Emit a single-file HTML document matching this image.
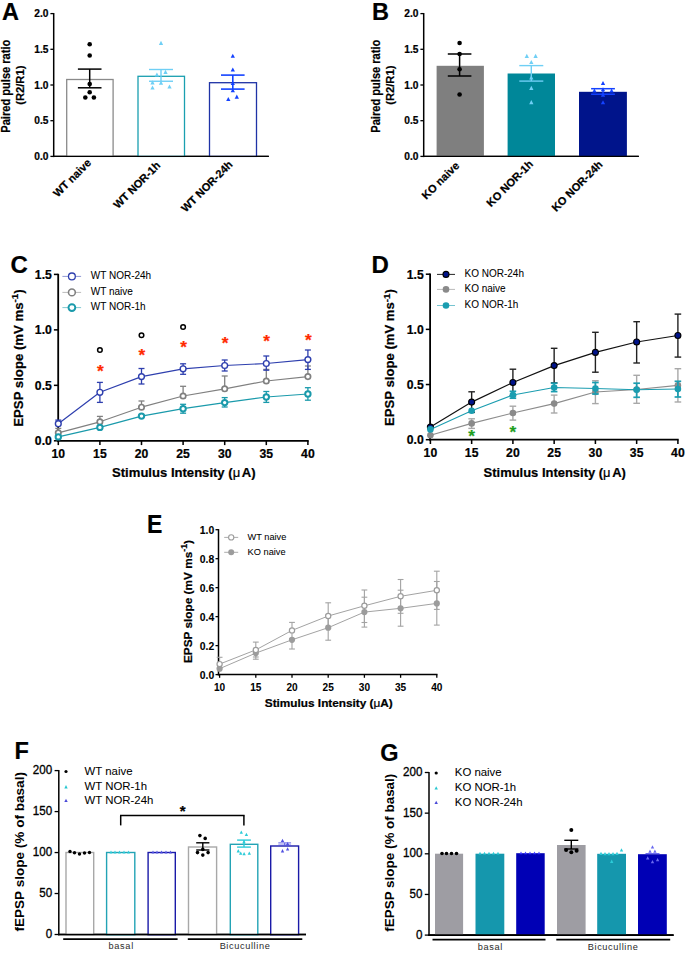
<!DOCTYPE html>
<html><head><meta charset="utf-8"><style>
html,body{margin:0;padding:0;background:#fff;}
svg{display:block;}
text{font-family:"Liberation Sans", sans-serif;stroke:currentColor;stroke-width:0.22px;}
text[font-weight="normal"]{stroke-width:0.05px;}
</style></head><body>
<svg width="685" height="964" viewBox="0 0 685 964">
<rect width="685" height="964" fill="#fff"/>
<text x="2.00" y="20.20" font-size="23.5" font-weight="bold" text-anchor="start" fill="#000" color="#000">A</text>
<line x1="53.70" y1="157.10" x2="53.70" y2="13.00" stroke="#000" stroke-width="1.5" stroke-linecap="butt"/>
<line x1="50.40" y1="156.40" x2="53.70" y2="156.40" stroke="#000" stroke-width="1.3" stroke-linecap="butt"/>
<text x="48.50" y="159.90" font-size="10.2" font-weight="bold" text-anchor="end" fill="#000" color="#000">0.0</text>
<line x1="50.40" y1="120.70" x2="53.70" y2="120.70" stroke="#000" stroke-width="1.3" stroke-linecap="butt"/>
<text x="48.50" y="124.20" font-size="10.2" font-weight="bold" text-anchor="end" fill="#000" color="#000">0.5</text>
<line x1="50.40" y1="85.00" x2="53.70" y2="85.00" stroke="#000" stroke-width="1.3" stroke-linecap="butt"/>
<text x="48.50" y="88.50" font-size="10.2" font-weight="bold" text-anchor="end" fill="#000" color="#000">1.0</text>
<line x1="50.40" y1="49.30" x2="53.70" y2="49.30" stroke="#000" stroke-width="1.3" stroke-linecap="butt"/>
<text x="48.50" y="52.80" font-size="10.2" font-weight="bold" text-anchor="end" fill="#000" color="#000">1.5</text>
<line x1="50.40" y1="13.60" x2="53.70" y2="13.60" stroke="#000" stroke-width="1.3" stroke-linecap="butt"/>
<text x="48.50" y="17.10" font-size="10.2" font-weight="bold" text-anchor="end" fill="#000" color="#000">2.0</text>
<line x1="53.10" y1="156.40" x2="268.80" y2="156.40" stroke="#000" stroke-width="1.4" stroke-linecap="butt"/>
<text x="0.00" y="0.00" font-size="12.0" font-weight="bold" text-anchor="middle" fill="#000" color="#000" textLength="93.00" lengthAdjust="spacingAndGlyphs" transform="translate(10.10,86.20) rotate(-90)">Paired pulse ratio</text>
<text x="0.00" y="0.00" font-size="11.8" font-weight="bold" text-anchor="middle" fill="#000" color="#000" textLength="39.20" lengthAdjust="spacingAndGlyphs" transform="translate(24.30,85.20) rotate(-90)">(R2/R1)</text>
<rect x="66.70" y="79.50" width="46.40" height="76.90" fill="#fff" stroke="#8a8a8a" stroke-width="1.3"/>
<rect x="138.00" y="76.30" width="46.50" height="80.10" fill="#fff" stroke="#1a9fb0" stroke-width="1.3"/>
<rect x="209.50" y="82.70" width="47.00" height="73.70" fill="#fff" stroke="#1f33a6" stroke-width="1.3"/>
<line x1="53.10" y1="156.40" x2="268.80" y2="156.40" stroke="#000" stroke-width="1.4" stroke-linecap="butt"/>
<line x1="89.70" y1="69.10" x2="89.70" y2="87.80" stroke="#000" stroke-width="1.5" stroke-linecap="butt"/>
<line x1="77.90" y1="69.10" x2="101.50" y2="69.10" stroke="#000" stroke-width="1.5" stroke-linecap="butt"/>
<line x1="77.90" y1="87.80" x2="101.50" y2="87.80" stroke="#000" stroke-width="1.5" stroke-linecap="butt"/>
<circle cx="89.70" cy="44.30" r="2.30" fill="#000" stroke="none" stroke-width="1.0"/>
<circle cx="89.70" cy="55.50" r="2.30" fill="#000" stroke="none" stroke-width="1.0"/>
<circle cx="89.70" cy="84.00" r="2.30" fill="#000" stroke="none" stroke-width="1.0"/>
<circle cx="89.70" cy="92.30" r="2.30" fill="#000" stroke="none" stroke-width="1.0"/>
<circle cx="85.30" cy="97.50" r="2.30" fill="#000" stroke="none" stroke-width="1.0"/>
<circle cx="93.90" cy="97.50" r="2.30" fill="#000" stroke="none" stroke-width="1.0"/>
<line x1="161.00" y1="69.50" x2="161.00" y2="81.25" stroke="#6fcff5" stroke-width="1.4" stroke-linecap="butt"/>
<line x1="149.00" y1="69.50" x2="173.00" y2="69.50" stroke="#6fcff5" stroke-width="1.4" stroke-linecap="butt"/>
<line x1="149.00" y1="81.25" x2="173.00" y2="81.25" stroke="#6fcff5" stroke-width="1.4" stroke-linecap="butt"/>
<polygon points="161.00,40.78 163.13,44.92 158.87,44.92" fill="#6fcff5"/>
<polygon points="156.90,72.48 159.03,76.62 154.77,76.62" fill="#6fcff5"/>
<polygon points="165.50,69.78 167.63,73.92 163.37,73.92" fill="#6fcff5"/>
<polygon points="152.50,80.28 154.63,84.42 150.37,84.42" fill="#6fcff5"/>
<polygon points="161.00,80.68 163.13,84.82 158.87,84.82" fill="#6fcff5"/>
<polygon points="152.50,85.48 154.63,89.62 150.37,89.62" fill="#6fcff5"/>
<polygon points="169.50,84.48 171.63,88.62 167.37,88.62" fill="#6fcff5"/>
<line x1="232.80" y1="75.10" x2="232.80" y2="89.10" stroke="#1442ff" stroke-width="1.6" stroke-linecap="butt"/>
<line x1="221.00" y1="75.10" x2="244.60" y2="75.10" stroke="#1442ff" stroke-width="1.6" stroke-linecap="butt"/>
<line x1="221.00" y1="89.10" x2="244.60" y2="89.10" stroke="#1442ff" stroke-width="1.6" stroke-linecap="butt"/>
<polygon points="232.80,53.68 234.93,57.82 230.67,57.82" fill="#1442ff"/>
<polygon points="232.80,67.48 234.93,71.62 230.67,71.62" fill="#1442ff"/>
<polygon points="232.80,80.98 234.93,85.12 230.67,85.12" fill="#1442ff"/>
<polygon points="232.80,88.18 234.93,92.32 230.67,92.32" fill="#1442ff"/>
<polygon points="228.30,96.98 230.43,101.12 226.17,101.12" fill="#1442ff"/>
<polygon points="236.80,94.58 238.93,98.72 234.67,98.72" fill="#1442ff"/>
<text x="0.00" y="0.00" font-size="11.0" font-weight="bold" text-anchor="end" fill="#000" color="#000" transform="translate(91.90,163.50) rotate(-45)">WT naive</text>
<text x="0.00" y="0.00" font-size="11.0" font-weight="bold" text-anchor="end" fill="#000" color="#000" transform="translate(161.10,166.10) rotate(-45)">WT NOR-1h</text>
<text x="0.00" y="0.00" font-size="11.0" font-weight="bold" text-anchor="end" fill="#000" color="#000" transform="translate(233.30,165.20) rotate(-45)">WT NOR-24h</text>
<text x="372.00" y="20.20" font-size="23.5" font-weight="bold" text-anchor="start" fill="#000" color="#000">B</text>
<line x1="423.70" y1="157.10" x2="423.70" y2="13.00" stroke="#000" stroke-width="1.5" stroke-linecap="butt"/>
<line x1="420.40" y1="156.40" x2="423.70" y2="156.40" stroke="#000" stroke-width="1.3" stroke-linecap="butt"/>
<text x="418.50" y="159.90" font-size="10.2" font-weight="bold" text-anchor="end" fill="#000" color="#000">0.0</text>
<line x1="420.40" y1="120.70" x2="423.70" y2="120.70" stroke="#000" stroke-width="1.3" stroke-linecap="butt"/>
<text x="418.50" y="124.20" font-size="10.2" font-weight="bold" text-anchor="end" fill="#000" color="#000">0.5</text>
<line x1="420.40" y1="85.00" x2="423.70" y2="85.00" stroke="#000" stroke-width="1.3" stroke-linecap="butt"/>
<text x="418.50" y="88.50" font-size="10.2" font-weight="bold" text-anchor="end" fill="#000" color="#000">1.0</text>
<line x1="420.40" y1="49.30" x2="423.70" y2="49.30" stroke="#000" stroke-width="1.3" stroke-linecap="butt"/>
<text x="418.50" y="52.80" font-size="10.2" font-weight="bold" text-anchor="end" fill="#000" color="#000">1.5</text>
<line x1="420.40" y1="13.60" x2="423.70" y2="13.60" stroke="#000" stroke-width="1.3" stroke-linecap="butt"/>
<text x="418.50" y="17.10" font-size="10.2" font-weight="bold" text-anchor="end" fill="#000" color="#000">2.0</text>
<line x1="423.10" y1="156.40" x2="638.80" y2="156.40" stroke="#000" stroke-width="1.4" stroke-linecap="butt"/>
<text x="0.00" y="0.00" font-size="12.0" font-weight="bold" text-anchor="middle" fill="#000" color="#000" textLength="93.00" lengthAdjust="spacingAndGlyphs" transform="translate(380.10,86.20) rotate(-90)">Paired pulse ratio</text>
<text x="0.00" y="0.00" font-size="11.8" font-weight="bold" text-anchor="middle" fill="#000" color="#000" textLength="39.20" lengthAdjust="spacingAndGlyphs" transform="translate(394.30,85.20) rotate(-90)">(R2/R1)</text>
<rect x="436.60" y="65.80" width="47.30" height="90.60" fill="#7f7f7f" stroke="none" stroke-width="1.3"/>
<rect x="507.60" y="73.50" width="47.40" height="82.90" fill="#008799" stroke="none" stroke-width="1.3"/>
<rect x="579.00" y="91.80" width="47.90" height="64.60" fill="#00148b" stroke="none" stroke-width="1.3"/>
<line x1="423.10" y1="156.40" x2="638.80" y2="156.40" stroke="#000" stroke-width="1.4" stroke-linecap="butt"/>
<line x1="459.60" y1="54.00" x2="459.60" y2="76.00" stroke="#000" stroke-width="1.5" stroke-linecap="butt"/>
<line x1="447.80" y1="54.00" x2="471.40" y2="54.00" stroke="#000" stroke-width="1.5" stroke-linecap="butt"/>
<line x1="447.80" y1="76.00" x2="471.40" y2="76.00" stroke="#000" stroke-width="1.5" stroke-linecap="butt"/>
<circle cx="459.60" cy="43.00" r="2.30" fill="#000" stroke="none" stroke-width="1.0"/>
<circle cx="459.60" cy="54.00" r="2.30" fill="#000" stroke="none" stroke-width="1.0"/>
<circle cx="459.60" cy="69.20" r="2.30" fill="#000" stroke="none" stroke-width="1.0"/>
<circle cx="459.60" cy="94.50" r="2.30" fill="#000" stroke="none" stroke-width="1.0"/>
<line x1="531.30" y1="65.60" x2="531.30" y2="81.10" stroke="#6fcff5" stroke-width="1.4" stroke-linecap="butt"/>
<line x1="519.30" y1="65.60" x2="543.30" y2="65.60" stroke="#6fcff5" stroke-width="1.4" stroke-linecap="butt"/>
<line x1="519.30" y1="81.10" x2="543.30" y2="81.10" stroke="#6fcff5" stroke-width="1.4" stroke-linecap="butt"/>
<polygon points="526.80,53.78 528.93,57.92 524.67,57.92" fill="#6fcff5"/>
<polygon points="535.60,53.78 537.73,57.92 533.47,57.92" fill="#6fcff5"/>
<polygon points="531.30,59.88 533.43,64.02 529.17,64.02" fill="#6fcff5"/>
<polygon points="531.30,75.38 533.43,79.52 529.17,79.52" fill="#6fcff5"/>
<polygon points="531.30,85.78 533.43,89.92 529.17,89.92" fill="#6fcff5"/>
<polygon points="531.30,100.08 533.43,104.22 529.17,104.22" fill="#6fcff5"/>
<line x1="603.00" y1="88.70" x2="603.00" y2="94.20" stroke="#1442ff" stroke-width="1.5" stroke-linecap="butt"/>
<line x1="591.10" y1="88.70" x2="614.90" y2="88.70" stroke="#1442ff" stroke-width="1.5" stroke-linecap="butt"/>
<line x1="591.10" y1="94.20" x2="614.90" y2="94.20" stroke="#1442ff" stroke-width="1.5" stroke-linecap="butt"/>
<polygon points="603.00,80.88 605.13,85.02 600.87,85.02" fill="#1442ff"/>
<polygon points="603.00,87.18 605.13,91.32 600.87,91.32" fill="#1442ff"/>
<polygon points="594.40,88.48 596.53,92.62 592.27,92.62" fill="#1442ff"/>
<polygon points="611.60,88.48 613.73,92.62 609.47,92.62" fill="#1442ff"/>
<polygon points="603.00,92.58 605.13,96.72 600.87,96.72" fill="#1442ff"/>
<polygon points="603.00,100.18 605.13,104.32 600.87,104.32" fill="#1442ff"/>
<text x="0.00" y="0.00" font-size="11.0" font-weight="bold" text-anchor="end" fill="#000" color="#000" transform="translate(460.00,166.40) rotate(-45)">KO naive</text>
<text x="0.00" y="0.00" font-size="11.0" font-weight="bold" text-anchor="end" fill="#000" color="#000" transform="translate(533.80,164.80) rotate(-45)">KO NOR-1h</text>
<text x="0.00" y="0.00" font-size="11.0" font-weight="bold" text-anchor="end" fill="#000" color="#000" transform="translate(603.30,165.20) rotate(-45)">KO NOR-24h</text>
<text x="10.60" y="273.20" font-size="24.0" font-weight="bold" text-anchor="start" fill="#000" color="#000">C</text>
<line x1="58.20" y1="273.80" x2="58.20" y2="441.60" stroke="#000" stroke-width="1.8" stroke-linecap="butt"/>
<line x1="53.90" y1="440.80" x2="58.20" y2="440.80" stroke="#000" stroke-width="1.53" stroke-linecap="butt"/>
<text x="0.00" y="0.00" font-size="12.2" font-weight="bold" text-anchor="end" fill="#000" color="#000" transform="translate(51.80,445.10) scale(1,1.08)">0.0</text>
<line x1="53.90" y1="385.34" x2="58.20" y2="385.34" stroke="#000" stroke-width="1.53" stroke-linecap="butt"/>
<text x="0.00" y="0.00" font-size="12.2" font-weight="bold" text-anchor="end" fill="#000" color="#000" transform="translate(51.80,389.64) scale(1,1.08)">0.5</text>
<line x1="53.90" y1="329.87" x2="58.20" y2="329.87" stroke="#000" stroke-width="1.53" stroke-linecap="butt"/>
<text x="0.00" y="0.00" font-size="12.2" font-weight="bold" text-anchor="end" fill="#000" color="#000" transform="translate(51.80,334.17) scale(1,1.08)">1.0</text>
<line x1="53.90" y1="274.40" x2="58.20" y2="274.40" stroke="#000" stroke-width="1.53" stroke-linecap="butt"/>
<text x="0.00" y="0.00" font-size="12.2" font-weight="bold" text-anchor="end" fill="#000" color="#000" transform="translate(51.80,278.70) scale(1,1.08)">1.5</text>
<line x1="57.40" y1="440.80" x2="308.70" y2="440.80" stroke="#000" stroke-width="1.8" stroke-linecap="butt"/>
<line x1="58.30" y1="440.80" x2="58.30" y2="445.10" stroke="#000" stroke-width="1.53" stroke-linecap="butt"/>
<text x="0.00" y="0.00" font-size="12.2" font-weight="bold" text-anchor="middle" fill="#000" color="#000" transform="translate(58.30,457.80) scale(1,1.08)">10</text>
<line x1="99.90" y1="440.80" x2="99.90" y2="445.10" stroke="#000" stroke-width="1.53" stroke-linecap="butt"/>
<text x="0.00" y="0.00" font-size="12.2" font-weight="bold" text-anchor="middle" fill="#000" color="#000" transform="translate(99.90,457.80) scale(1,1.08)">15</text>
<line x1="141.50" y1="440.80" x2="141.50" y2="445.10" stroke="#000" stroke-width="1.53" stroke-linecap="butt"/>
<text x="0.00" y="0.00" font-size="12.2" font-weight="bold" text-anchor="middle" fill="#000" color="#000" transform="translate(141.50,457.80) scale(1,1.08)">20</text>
<line x1="183.10" y1="440.80" x2="183.10" y2="445.10" stroke="#000" stroke-width="1.53" stroke-linecap="butt"/>
<text x="0.00" y="0.00" font-size="12.2" font-weight="bold" text-anchor="middle" fill="#000" color="#000" transform="translate(183.10,457.80) scale(1,1.08)">25</text>
<line x1="224.70" y1="440.80" x2="224.70" y2="445.10" stroke="#000" stroke-width="1.53" stroke-linecap="butt"/>
<text x="0.00" y="0.00" font-size="12.2" font-weight="bold" text-anchor="middle" fill="#000" color="#000" transform="translate(224.70,457.80) scale(1,1.08)">30</text>
<line x1="266.30" y1="440.80" x2="266.30" y2="445.10" stroke="#000" stroke-width="1.53" stroke-linecap="butt"/>
<text x="0.00" y="0.00" font-size="12.2" font-weight="bold" text-anchor="middle" fill="#000" color="#000" transform="translate(266.30,457.80) scale(1,1.08)">35</text>
<line x1="307.90" y1="440.80" x2="307.90" y2="445.10" stroke="#000" stroke-width="1.53" stroke-linecap="butt"/>
<text x="0.00" y="0.00" font-size="12.2" font-weight="bold" text-anchor="middle" fill="#000" color="#000" transform="translate(307.90,457.80) scale(1,1.08)">40</text>
<text transform="translate(23.00,358.00) rotate(-90)" x="0" y="0" font-size="13.0" font-weight="bold" text-anchor="middle" textLength="137.50" lengthAdjust="spacingAndGlyphs">EPSP slope (mV ms<tspan font-size="9.75" dy="-4.68">-1</tspan><tspan dy="4.68">)</tspan></text>
<text x="183.80" y="477.30" font-size="13.3" font-weight="bold" text-anchor="middle" textLength="143.50" lengthAdjust="spacingAndGlyphs">Stimulus Intensity (<tspan font-weight="normal">μ</tspan><tspan dx="1.6">A)</tspan></text>
<polyline points="58.30,432.80 99.90,421.80 141.50,407.20 183.10,396.00 224.70,388.80 266.30,381.00 307.90,376.60" fill="none" stroke="#808080" stroke-width="1.2" stroke-linejoin="round"/>
<line x1="58.30" y1="428.40" x2="58.30" y2="432.80" stroke="#808080" stroke-width="1.3" stroke-linecap="butt"/>
<line x1="55.30" y1="428.40" x2="61.30" y2="428.40" stroke="#808080" stroke-width="1.3" stroke-linecap="butt"/>
<line x1="99.90" y1="416.40" x2="99.90" y2="421.80" stroke="#808080" stroke-width="1.3" stroke-linecap="butt"/>
<line x1="96.90" y1="416.40" x2="102.90" y2="416.40" stroke="#808080" stroke-width="1.3" stroke-linecap="butt"/>
<line x1="141.50" y1="401.00" x2="141.50" y2="407.20" stroke="#808080" stroke-width="1.3" stroke-linecap="butt"/>
<line x1="138.50" y1="401.00" x2="144.50" y2="401.00" stroke="#808080" stroke-width="1.3" stroke-linecap="butt"/>
<line x1="183.10" y1="386.30" x2="183.10" y2="396.00" stroke="#808080" stroke-width="1.3" stroke-linecap="butt"/>
<line x1="180.10" y1="386.30" x2="186.10" y2="386.30" stroke="#808080" stroke-width="1.3" stroke-linecap="butt"/>
<line x1="224.70" y1="376.00" x2="224.70" y2="388.80" stroke="#808080" stroke-width="1.3" stroke-linecap="butt"/>
<line x1="221.70" y1="376.00" x2="227.70" y2="376.00" stroke="#808080" stroke-width="1.3" stroke-linecap="butt"/>
<line x1="266.30" y1="369.40" x2="266.30" y2="381.00" stroke="#808080" stroke-width="1.3" stroke-linecap="butt"/>
<line x1="263.30" y1="369.40" x2="269.30" y2="369.40" stroke="#808080" stroke-width="1.3" stroke-linecap="butt"/>
<line x1="307.90" y1="366.00" x2="307.90" y2="376.60" stroke="#808080" stroke-width="1.3" stroke-linecap="butt"/>
<line x1="304.90" y1="366.00" x2="310.90" y2="366.00" stroke="#808080" stroke-width="1.3" stroke-linecap="butt"/>
<circle cx="58.30" cy="432.80" r="2.70" fill="#fff" stroke="#808080" stroke-width="1.7"/>
<circle cx="99.90" cy="421.80" r="2.70" fill="#fff" stroke="#808080" stroke-width="1.7"/>
<circle cx="141.50" cy="407.20" r="2.70" fill="#fff" stroke="#808080" stroke-width="1.7"/>
<circle cx="183.10" cy="396.00" r="2.70" fill="#fff" stroke="#808080" stroke-width="1.7"/>
<circle cx="224.70" cy="388.80" r="2.70" fill="#fff" stroke="#808080" stroke-width="1.7"/>
<circle cx="266.30" cy="381.00" r="2.70" fill="#fff" stroke="#808080" stroke-width="1.7"/>
<circle cx="307.90" cy="376.60" r="2.70" fill="#fff" stroke="#808080" stroke-width="1.7"/>
<polyline points="58.30,436.90 99.90,427.40 141.50,416.10 183.10,408.70 224.70,402.60 266.30,397.00 307.90,394.00" fill="none" stroke="#1a9aab" stroke-width="1.2" stroke-linejoin="round"/>
<line x1="183.10" y1="404.30" x2="183.10" y2="408.70" stroke="#1a9aab" stroke-width="1.3" stroke-linecap="butt"/>
<line x1="180.10" y1="404.30" x2="186.10" y2="404.30" stroke="#1a9aab" stroke-width="1.3" stroke-linecap="butt"/>
<line x1="183.10" y1="408.70" x2="183.10" y2="413.20" stroke="#1a9aab" stroke-width="1.3" stroke-linecap="butt"/>
<line x1="180.10" y1="413.20" x2="186.10" y2="413.20" stroke="#1a9aab" stroke-width="1.3" stroke-linecap="butt"/>
<line x1="224.70" y1="397.60" x2="224.70" y2="402.60" stroke="#1a9aab" stroke-width="1.3" stroke-linecap="butt"/>
<line x1="221.70" y1="397.60" x2="227.70" y2="397.60" stroke="#1a9aab" stroke-width="1.3" stroke-linecap="butt"/>
<line x1="224.70" y1="402.60" x2="224.70" y2="407.00" stroke="#1a9aab" stroke-width="1.3" stroke-linecap="butt"/>
<line x1="221.70" y1="407.00" x2="227.70" y2="407.00" stroke="#1a9aab" stroke-width="1.3" stroke-linecap="butt"/>
<line x1="266.30" y1="391.50" x2="266.30" y2="397.00" stroke="#1a9aab" stroke-width="1.3" stroke-linecap="butt"/>
<line x1="263.30" y1="391.50" x2="269.30" y2="391.50" stroke="#1a9aab" stroke-width="1.3" stroke-linecap="butt"/>
<line x1="266.30" y1="397.00" x2="266.30" y2="402.40" stroke="#1a9aab" stroke-width="1.3" stroke-linecap="butt"/>
<line x1="263.30" y1="402.40" x2="269.30" y2="402.40" stroke="#1a9aab" stroke-width="1.3" stroke-linecap="butt"/>
<line x1="307.90" y1="387.70" x2="307.90" y2="394.00" stroke="#1a9aab" stroke-width="1.3" stroke-linecap="butt"/>
<line x1="304.90" y1="387.70" x2="310.90" y2="387.70" stroke="#1a9aab" stroke-width="1.3" stroke-linecap="butt"/>
<line x1="307.90" y1="394.00" x2="307.90" y2="400.20" stroke="#1a9aab" stroke-width="1.3" stroke-linecap="butt"/>
<line x1="304.90" y1="400.20" x2="310.90" y2="400.20" stroke="#1a9aab" stroke-width="1.3" stroke-linecap="butt"/>
<circle cx="58.30" cy="436.90" r="2.70" fill="#fff" stroke="#1a9aab" stroke-width="2.0"/>
<circle cx="99.90" cy="427.40" r="2.70" fill="#fff" stroke="#1a9aab" stroke-width="2.0"/>
<circle cx="141.50" cy="416.10" r="2.70" fill="#fff" stroke="#1a9aab" stroke-width="2.0"/>
<circle cx="183.10" cy="408.70" r="2.70" fill="#fff" stroke="#1a9aab" stroke-width="2.0"/>
<circle cx="224.70" cy="402.60" r="2.70" fill="#fff" stroke="#1a9aab" stroke-width="2.0"/>
<circle cx="266.30" cy="397.00" r="2.70" fill="#fff" stroke="#1a9aab" stroke-width="2.0"/>
<circle cx="307.90" cy="394.00" r="2.70" fill="#fff" stroke="#1a9aab" stroke-width="2.0"/>
<polyline points="58.30,423.70 99.90,392.30 141.50,376.60 183.10,368.80 224.70,365.50 266.30,363.50 307.90,359.60" fill="none" stroke="#2e3fae" stroke-width="1.2" stroke-linejoin="round"/>
<line x1="58.30" y1="420.10" x2="58.30" y2="423.70" stroke="#2e3fae" stroke-width="1.3" stroke-linecap="butt"/>
<line x1="55.30" y1="420.10" x2="61.30" y2="420.10" stroke="#2e3fae" stroke-width="1.3" stroke-linecap="butt"/>
<line x1="99.90" y1="382.40" x2="99.90" y2="392.30" stroke="#2e3fae" stroke-width="1.3" stroke-linecap="butt"/>
<line x1="96.90" y1="382.40" x2="102.90" y2="382.40" stroke="#2e3fae" stroke-width="1.3" stroke-linecap="butt"/>
<line x1="99.90" y1="392.30" x2="99.90" y2="402.40" stroke="#2e3fae" stroke-width="1.3" stroke-linecap="butt"/>
<line x1="96.90" y1="402.40" x2="102.90" y2="402.40" stroke="#2e3fae" stroke-width="1.3" stroke-linecap="butt"/>
<line x1="141.50" y1="368.50" x2="141.50" y2="376.60" stroke="#2e3fae" stroke-width="1.3" stroke-linecap="butt"/>
<line x1="138.50" y1="368.50" x2="144.50" y2="368.50" stroke="#2e3fae" stroke-width="1.3" stroke-linecap="butt"/>
<line x1="141.50" y1="376.60" x2="141.50" y2="384.00" stroke="#2e3fae" stroke-width="1.3" stroke-linecap="butt"/>
<line x1="138.50" y1="384.00" x2="144.50" y2="384.00" stroke="#2e3fae" stroke-width="1.3" stroke-linecap="butt"/>
<line x1="183.10" y1="363.80" x2="183.10" y2="368.80" stroke="#2e3fae" stroke-width="1.3" stroke-linecap="butt"/>
<line x1="180.10" y1="363.80" x2="186.10" y2="363.80" stroke="#2e3fae" stroke-width="1.3" stroke-linecap="butt"/>
<line x1="183.10" y1="368.80" x2="183.10" y2="374.30" stroke="#2e3fae" stroke-width="1.3" stroke-linecap="butt"/>
<line x1="180.10" y1="374.30" x2="186.10" y2="374.30" stroke="#2e3fae" stroke-width="1.3" stroke-linecap="butt"/>
<line x1="224.70" y1="360.00" x2="224.70" y2="365.50" stroke="#2e3fae" stroke-width="1.3" stroke-linecap="butt"/>
<line x1="221.70" y1="360.00" x2="227.70" y2="360.00" stroke="#2e3fae" stroke-width="1.3" stroke-linecap="butt"/>
<line x1="224.70" y1="365.50" x2="224.70" y2="371.00" stroke="#2e3fae" stroke-width="1.3" stroke-linecap="butt"/>
<line x1="221.70" y1="371.00" x2="227.70" y2="371.00" stroke="#2e3fae" stroke-width="1.3" stroke-linecap="butt"/>
<line x1="266.30" y1="356.00" x2="266.30" y2="363.50" stroke="#2e3fae" stroke-width="1.3" stroke-linecap="butt"/>
<line x1="263.30" y1="356.00" x2="269.30" y2="356.00" stroke="#2e3fae" stroke-width="1.3" stroke-linecap="butt"/>
<line x1="266.30" y1="363.50" x2="266.30" y2="370.20" stroke="#2e3fae" stroke-width="1.3" stroke-linecap="butt"/>
<line x1="263.30" y1="370.20" x2="269.30" y2="370.20" stroke="#2e3fae" stroke-width="1.3" stroke-linecap="butt"/>
<line x1="307.90" y1="350.00" x2="307.90" y2="359.60" stroke="#2e3fae" stroke-width="1.3" stroke-linecap="butt"/>
<line x1="304.90" y1="350.00" x2="310.90" y2="350.00" stroke="#2e3fae" stroke-width="1.3" stroke-linecap="butt"/>
<line x1="307.90" y1="359.60" x2="307.90" y2="369.40" stroke="#2e3fae" stroke-width="1.3" stroke-linecap="butt"/>
<line x1="304.90" y1="369.40" x2="310.90" y2="369.40" stroke="#2e3fae" stroke-width="1.3" stroke-linecap="butt"/>
<circle cx="58.30" cy="423.70" r="2.90" fill="#fff" stroke="#2e3fae" stroke-width="1.4"/>
<circle cx="99.90" cy="392.30" r="2.90" fill="#fff" stroke="#2e3fae" stroke-width="1.4"/>
<circle cx="141.50" cy="376.60" r="2.90" fill="#fff" stroke="#2e3fae" stroke-width="1.4"/>
<circle cx="183.10" cy="368.80" r="2.90" fill="#fff" stroke="#2e3fae" stroke-width="1.4"/>
<circle cx="224.70" cy="365.50" r="2.90" fill="#fff" stroke="#2e3fae" stroke-width="1.4"/>
<circle cx="266.30" cy="363.50" r="2.90" fill="#fff" stroke="#2e3fae" stroke-width="1.4"/>
<circle cx="307.90" cy="359.60" r="2.90" fill="#fff" stroke="#2e3fae" stroke-width="1.4"/>
<line x1="62.4" y1="276.4" x2="81.1" y2="276.4" stroke="#2e3fae" stroke-width="0.9" stroke-opacity="0.6"/>
<circle cx="71.90" cy="276.40" r="3.40" fill="#fff" stroke="#2e3fae" stroke-width="1.3"/>
<text x="90.80" y="279.00" font-size="10.0" font-weight="normal" text-anchor="start" fill="#000" color="#000">WT NOR-24h</text>
<line x1="62.4" y1="292.4" x2="81.1" y2="292.4" stroke="#808080" stroke-width="0.9" stroke-opacity="0.6"/>
<circle cx="71.90" cy="292.40" r="3.40" fill="#fff" stroke="#808080" stroke-width="1.6"/>
<text x="90.80" y="295.00" font-size="10.0" font-weight="normal" text-anchor="start" fill="#000" color="#000">WT naive</text>
<line x1="62.4" y1="307.6" x2="81.1" y2="307.6" stroke="#1a9aab" stroke-width="0.9" stroke-opacity="0.6"/>
<circle cx="71.90" cy="307.60" r="3.40" fill="#fff" stroke="#1a9aab" stroke-width="1.9000000000000001"/>
<text x="90.80" y="310.20" font-size="10.0" font-weight="normal" text-anchor="start" fill="#000" color="#000">WT NOR-1h</text>
<circle cx="99.90" cy="350.00" r="2.30" fill="none" stroke="#000" stroke-width="1.5"/>
<text x="100.30" y="376.60" font-size="17.3" font-weight="bold" text-anchor="middle" fill="#ff2a00" color="#ff2a00">*</text>
<circle cx="141.50" cy="335.20" r="2.30" fill="none" stroke="#000" stroke-width="1.5"/>
<text x="141.90" y="361.30" font-size="17.3" font-weight="bold" text-anchor="middle" fill="#ff2a00" color="#ff2a00">*</text>
<circle cx="183.10" cy="327.00" r="2.30" fill="none" stroke="#000" stroke-width="1.5"/>
<text x="183.50" y="353.00" font-size="17.3" font-weight="bold" text-anchor="middle" fill="#ff2a00" color="#ff2a00">*</text>
<text x="225.10" y="349.10" font-size="17.3" font-weight="bold" text-anchor="middle" fill="#ff2a00" color="#ff2a00">*</text>
<text x="266.70" y="346.90" font-size="17.3" font-weight="bold" text-anchor="middle" fill="#ff2a00" color="#ff2a00">*</text>
<text x="308.30" y="345.60" font-size="17.3" font-weight="bold" text-anchor="middle" fill="#ff2a00" color="#ff2a00">*</text>
<text x="371.60" y="273.20" font-size="24.0" font-weight="bold" text-anchor="start" fill="#000" color="#000">D</text>
<line x1="430.10" y1="273.60" x2="430.10" y2="440.50" stroke="#000" stroke-width="1.8" stroke-linecap="butt"/>
<line x1="425.80" y1="439.70" x2="430.10" y2="439.70" stroke="#000" stroke-width="1.53" stroke-linecap="butt"/>
<text x="0.00" y="0.00" font-size="12.2" font-weight="bold" text-anchor="end" fill="#000" color="#000" transform="translate(423.70,444.00) scale(1,1.08)">0.0</text>
<line x1="425.80" y1="384.53" x2="430.10" y2="384.53" stroke="#000" stroke-width="1.53" stroke-linecap="butt"/>
<text x="0.00" y="0.00" font-size="12.2" font-weight="bold" text-anchor="end" fill="#000" color="#000" transform="translate(423.70,388.83) scale(1,1.08)">0.5</text>
<line x1="425.80" y1="329.37" x2="430.10" y2="329.37" stroke="#000" stroke-width="1.53" stroke-linecap="butt"/>
<text x="0.00" y="0.00" font-size="12.2" font-weight="bold" text-anchor="end" fill="#000" color="#000" transform="translate(423.70,333.67) scale(1,1.08)">1.0</text>
<line x1="425.80" y1="274.20" x2="430.10" y2="274.20" stroke="#000" stroke-width="1.53" stroke-linecap="butt"/>
<text x="0.00" y="0.00" font-size="12.2" font-weight="bold" text-anchor="end" fill="#000" color="#000" transform="translate(423.70,278.50) scale(1,1.08)">1.5</text>
<line x1="429.30" y1="439.70" x2="678.70" y2="439.70" stroke="#000" stroke-width="1.8" stroke-linecap="butt"/>
<line x1="430.40" y1="439.70" x2="430.40" y2="444.00" stroke="#000" stroke-width="1.53" stroke-linecap="butt"/>
<text x="0.00" y="0.00" font-size="12.2" font-weight="bold" text-anchor="middle" fill="#000" color="#000" transform="translate(430.40,456.70) scale(1,1.08)">10</text>
<line x1="471.65" y1="439.70" x2="471.65" y2="444.00" stroke="#000" stroke-width="1.53" stroke-linecap="butt"/>
<text x="0.00" y="0.00" font-size="12.2" font-weight="bold" text-anchor="middle" fill="#000" color="#000" transform="translate(471.65,456.70) scale(1,1.08)">15</text>
<line x1="512.90" y1="439.70" x2="512.90" y2="444.00" stroke="#000" stroke-width="1.53" stroke-linecap="butt"/>
<text x="0.00" y="0.00" font-size="12.2" font-weight="bold" text-anchor="middle" fill="#000" color="#000" transform="translate(512.90,456.70) scale(1,1.08)">20</text>
<line x1="554.15" y1="439.70" x2="554.15" y2="444.00" stroke="#000" stroke-width="1.53" stroke-linecap="butt"/>
<text x="0.00" y="0.00" font-size="12.2" font-weight="bold" text-anchor="middle" fill="#000" color="#000" transform="translate(554.15,456.70) scale(1,1.08)">25</text>
<line x1="595.40" y1="439.70" x2="595.40" y2="444.00" stroke="#000" stroke-width="1.53" stroke-linecap="butt"/>
<text x="0.00" y="0.00" font-size="12.2" font-weight="bold" text-anchor="middle" fill="#000" color="#000" transform="translate(595.40,456.70) scale(1,1.08)">30</text>
<line x1="636.65" y1="439.70" x2="636.65" y2="444.00" stroke="#000" stroke-width="1.53" stroke-linecap="butt"/>
<text x="0.00" y="0.00" font-size="12.2" font-weight="bold" text-anchor="middle" fill="#000" color="#000" transform="translate(636.65,456.70) scale(1,1.08)">35</text>
<line x1="677.90" y1="439.70" x2="677.90" y2="444.00" stroke="#000" stroke-width="1.53" stroke-linecap="butt"/>
<text x="0.00" y="0.00" font-size="12.2" font-weight="bold" text-anchor="middle" fill="#000" color="#000" transform="translate(677.90,456.70) scale(1,1.08)">40</text>
<text transform="translate(394.20,357.50) rotate(-90)" x="0" y="0" font-size="13.0" font-weight="bold" text-anchor="middle" textLength="137.00" lengthAdjust="spacingAndGlyphs">EPSP slope (mV ms<tspan font-size="9.75" dy="-4.68">-1</tspan><tspan dy="4.68">)</tspan></text>
<text x="554.70" y="477.30" font-size="13.3" font-weight="bold" text-anchor="middle" textLength="142.20" lengthAdjust="spacingAndGlyphs">Stimulus Intensity (<tspan font-weight="normal">μ</tspan><tspan dx="1.6">A)</tspan></text>
<polyline points="430.40,435.20 471.65,423.40 512.90,413.00 554.15,403.60 595.40,392.00 636.65,389.50 677.90,385.40" fill="none" stroke="#8c8c8c" stroke-width="1.1" stroke-linejoin="round"/>
<line x1="471.65" y1="418.80" x2="471.65" y2="423.40" stroke="#a8a8a8" stroke-width="1.4" stroke-linecap="butt"/>
<line x1="468.35" y1="418.80" x2="474.95" y2="418.80" stroke="#a8a8a8" stroke-width="1.4" stroke-linecap="butt"/>
<line x1="471.65" y1="423.40" x2="471.65" y2="428.40" stroke="#a8a8a8" stroke-width="1.4" stroke-linecap="butt"/>
<line x1="468.35" y1="428.40" x2="474.95" y2="428.40" stroke="#a8a8a8" stroke-width="1.4" stroke-linecap="butt"/>
<line x1="512.90" y1="406.20" x2="512.90" y2="413.00" stroke="#a8a8a8" stroke-width="1.4" stroke-linecap="butt"/>
<line x1="509.60" y1="406.20" x2="516.20" y2="406.20" stroke="#a8a8a8" stroke-width="1.4" stroke-linecap="butt"/>
<line x1="512.90" y1="413.00" x2="512.90" y2="420.10" stroke="#a8a8a8" stroke-width="1.4" stroke-linecap="butt"/>
<line x1="509.60" y1="420.10" x2="516.20" y2="420.10" stroke="#a8a8a8" stroke-width="1.4" stroke-linecap="butt"/>
<line x1="554.15" y1="395.10" x2="554.15" y2="403.60" stroke="#a8a8a8" stroke-width="1.4" stroke-linecap="butt"/>
<line x1="550.85" y1="395.10" x2="557.45" y2="395.10" stroke="#a8a8a8" stroke-width="1.4" stroke-linecap="butt"/>
<line x1="554.15" y1="403.60" x2="554.15" y2="413.00" stroke="#a8a8a8" stroke-width="1.4" stroke-linecap="butt"/>
<line x1="550.85" y1="413.00" x2="557.45" y2="413.00" stroke="#a8a8a8" stroke-width="1.4" stroke-linecap="butt"/>
<line x1="595.40" y1="380.70" x2="595.40" y2="392.00" stroke="#a8a8a8" stroke-width="1.4" stroke-linecap="butt"/>
<line x1="592.10" y1="380.70" x2="598.70" y2="380.70" stroke="#a8a8a8" stroke-width="1.4" stroke-linecap="butt"/>
<line x1="595.40" y1="392.00" x2="595.40" y2="403.60" stroke="#a8a8a8" stroke-width="1.4" stroke-linecap="butt"/>
<line x1="592.10" y1="403.60" x2="598.70" y2="403.60" stroke="#a8a8a8" stroke-width="1.4" stroke-linecap="butt"/>
<line x1="636.65" y1="375.30" x2="636.65" y2="389.50" stroke="#a8a8a8" stroke-width="1.4" stroke-linecap="butt"/>
<line x1="633.35" y1="375.30" x2="639.95" y2="375.30" stroke="#a8a8a8" stroke-width="1.4" stroke-linecap="butt"/>
<line x1="636.65" y1="389.50" x2="636.65" y2="403.30" stroke="#a8a8a8" stroke-width="1.4" stroke-linecap="butt"/>
<line x1="633.35" y1="403.30" x2="639.95" y2="403.30" stroke="#a8a8a8" stroke-width="1.4" stroke-linecap="butt"/>
<line x1="677.90" y1="368.70" x2="677.90" y2="385.40" stroke="#a8a8a8" stroke-width="1.4" stroke-linecap="butt"/>
<line x1="674.60" y1="368.70" x2="681.20" y2="368.70" stroke="#a8a8a8" stroke-width="1.4" stroke-linecap="butt"/>
<line x1="677.90" y1="385.40" x2="677.90" y2="402.00" stroke="#a8a8a8" stroke-width="1.4" stroke-linecap="butt"/>
<line x1="674.60" y1="402.00" x2="681.20" y2="402.00" stroke="#a8a8a8" stroke-width="1.4" stroke-linecap="butt"/>
<circle cx="430.40" cy="435.20" r="3.30" fill="#8a8a8a" stroke="none" stroke-width="0"/>
<circle cx="471.65" cy="423.40" r="3.30" fill="#8a8a8a" stroke="none" stroke-width="0"/>
<circle cx="512.90" cy="413.00" r="3.30" fill="#8a8a8a" stroke="none" stroke-width="0"/>
<circle cx="554.15" cy="403.60" r="3.30" fill="#8a8a8a" stroke="none" stroke-width="0"/>
<circle cx="595.40" cy="392.00" r="3.30" fill="#8a8a8a" stroke="none" stroke-width="0"/>
<circle cx="636.65" cy="389.50" r="3.30" fill="#8a8a8a" stroke="none" stroke-width="0"/>
<circle cx="677.90" cy="385.40" r="3.30" fill="#8a8a8a" stroke="none" stroke-width="0"/>
<polyline points="430.40,427.10 471.65,402.10 512.90,382.50 554.15,365.60 595.40,352.40 636.65,342.00 677.90,335.50" fill="none" stroke="#111" stroke-width="1.2" stroke-linejoin="round"/>
<line x1="471.65" y1="391.80" x2="471.65" y2="402.10" stroke="#222" stroke-width="1.4" stroke-linecap="butt"/>
<line x1="468.35" y1="391.80" x2="474.95" y2="391.80" stroke="#222" stroke-width="1.4" stroke-linecap="butt"/>
<line x1="471.65" y1="402.10" x2="471.65" y2="412.40" stroke="#222" stroke-width="1.4" stroke-linecap="butt"/>
<line x1="468.35" y1="412.40" x2="474.95" y2="412.40" stroke="#222" stroke-width="1.4" stroke-linecap="butt"/>
<line x1="512.90" y1="369.20" x2="512.90" y2="382.50" stroke="#222" stroke-width="1.4" stroke-linecap="butt"/>
<line x1="509.60" y1="369.20" x2="516.20" y2="369.20" stroke="#222" stroke-width="1.4" stroke-linecap="butt"/>
<line x1="512.90" y1="382.50" x2="512.90" y2="395.70" stroke="#222" stroke-width="1.4" stroke-linecap="butt"/>
<line x1="509.60" y1="395.70" x2="516.20" y2="395.70" stroke="#222" stroke-width="1.4" stroke-linecap="butt"/>
<line x1="554.15" y1="348.30" x2="554.15" y2="365.60" stroke="#222" stroke-width="1.4" stroke-linecap="butt"/>
<line x1="550.85" y1="348.30" x2="557.45" y2="348.30" stroke="#222" stroke-width="1.4" stroke-linecap="butt"/>
<line x1="554.15" y1="365.60" x2="554.15" y2="382.90" stroke="#222" stroke-width="1.4" stroke-linecap="butt"/>
<line x1="550.85" y1="382.90" x2="557.45" y2="382.90" stroke="#222" stroke-width="1.4" stroke-linecap="butt"/>
<line x1="595.40" y1="332.30" x2="595.40" y2="352.40" stroke="#222" stroke-width="1.4" stroke-linecap="butt"/>
<line x1="592.10" y1="332.30" x2="598.70" y2="332.30" stroke="#222" stroke-width="1.4" stroke-linecap="butt"/>
<line x1="595.40" y1="352.40" x2="595.40" y2="372.20" stroke="#222" stroke-width="1.4" stroke-linecap="butt"/>
<line x1="592.10" y1="372.20" x2="598.70" y2="372.20" stroke="#222" stroke-width="1.4" stroke-linecap="butt"/>
<line x1="636.65" y1="321.70" x2="636.65" y2="342.00" stroke="#222" stroke-width="1.4" stroke-linecap="butt"/>
<line x1="633.35" y1="321.70" x2="639.95" y2="321.70" stroke="#222" stroke-width="1.4" stroke-linecap="butt"/>
<line x1="636.65" y1="342.00" x2="636.65" y2="363.00" stroke="#222" stroke-width="1.4" stroke-linecap="butt"/>
<line x1="633.35" y1="363.00" x2="639.95" y2="363.00" stroke="#222" stroke-width="1.4" stroke-linecap="butt"/>
<line x1="677.90" y1="314.10" x2="677.90" y2="335.50" stroke="#222" stroke-width="1.4" stroke-linecap="butt"/>
<line x1="674.60" y1="314.10" x2="681.20" y2="314.10" stroke="#222" stroke-width="1.4" stroke-linecap="butt"/>
<line x1="677.90" y1="335.50" x2="677.90" y2="357.10" stroke="#222" stroke-width="1.4" stroke-linecap="butt"/>
<line x1="674.60" y1="357.10" x2="681.20" y2="357.10" stroke="#222" stroke-width="1.4" stroke-linecap="butt"/>
<circle cx="430.40" cy="427.10" r="3.00" fill="#00138a" stroke="#000" stroke-width="1.1"/>
<circle cx="471.65" cy="402.10" r="3.00" fill="#00138a" stroke="#000" stroke-width="1.1"/>
<circle cx="512.90" cy="382.50" r="3.00" fill="#00138a" stroke="#000" stroke-width="1.1"/>
<circle cx="554.15" cy="365.60" r="3.00" fill="#00138a" stroke="#000" stroke-width="1.1"/>
<circle cx="595.40" cy="352.40" r="3.00" fill="#00138a" stroke="#000" stroke-width="1.1"/>
<circle cx="636.65" cy="342.00" r="3.00" fill="#00138a" stroke="#000" stroke-width="1.1"/>
<circle cx="677.90" cy="335.50" r="3.00" fill="#00138a" stroke="#000" stroke-width="1.1"/>
<polyline points="430.40,429.40 471.65,410.70 512.90,395.00 554.15,387.60 595.40,388.50 636.65,389.80 677.90,389.10" fill="none" stroke="#1b9db0" stroke-width="1.05" stroke-linejoin="round"/>
<line x1="512.90" y1="391.30" x2="512.90" y2="395.00" stroke="#1b9db0" stroke-width="1.7" stroke-linecap="butt"/>
<line x1="509.60" y1="391.30" x2="516.20" y2="391.30" stroke="#1b9db0" stroke-width="1.7" stroke-linecap="butt"/>
<line x1="512.90" y1="395.00" x2="512.90" y2="398.20" stroke="#1b9db0" stroke-width="1.7" stroke-linecap="butt"/>
<line x1="509.60" y1="398.20" x2="516.20" y2="398.20" stroke="#1b9db0" stroke-width="1.7" stroke-linecap="butt"/>
<line x1="554.15" y1="383.20" x2="554.15" y2="387.60" stroke="#1b9db0" stroke-width="1.7" stroke-linecap="butt"/>
<line x1="550.85" y1="383.20" x2="557.45" y2="383.20" stroke="#1b9db0" stroke-width="1.7" stroke-linecap="butt"/>
<line x1="554.15" y1="387.60" x2="554.15" y2="391.60" stroke="#1b9db0" stroke-width="1.7" stroke-linecap="butt"/>
<line x1="550.85" y1="391.60" x2="557.45" y2="391.60" stroke="#1b9db0" stroke-width="1.7" stroke-linecap="butt"/>
<line x1="595.40" y1="382.50" x2="595.40" y2="388.50" stroke="#1b9db0" stroke-width="1.7" stroke-linecap="butt"/>
<line x1="592.10" y1="382.50" x2="598.70" y2="382.50" stroke="#1b9db0" stroke-width="1.7" stroke-linecap="butt"/>
<line x1="595.40" y1="388.50" x2="595.40" y2="394.00" stroke="#1b9db0" stroke-width="1.7" stroke-linecap="butt"/>
<line x1="592.10" y1="394.00" x2="598.70" y2="394.00" stroke="#1b9db0" stroke-width="1.7" stroke-linecap="butt"/>
<line x1="636.65" y1="383.20" x2="636.65" y2="389.80" stroke="#1b9db0" stroke-width="1.7" stroke-linecap="butt"/>
<line x1="633.35" y1="383.20" x2="639.95" y2="383.20" stroke="#1b9db0" stroke-width="1.7" stroke-linecap="butt"/>
<line x1="636.65" y1="389.80" x2="636.65" y2="397.30" stroke="#1b9db0" stroke-width="1.7" stroke-linecap="butt"/>
<line x1="633.35" y1="397.30" x2="639.95" y2="397.30" stroke="#1b9db0" stroke-width="1.7" stroke-linecap="butt"/>
<line x1="677.90" y1="381.30" x2="677.90" y2="389.10" stroke="#1b9db0" stroke-width="1.7" stroke-linecap="butt"/>
<line x1="674.60" y1="381.30" x2="681.20" y2="381.30" stroke="#1b9db0" stroke-width="1.7" stroke-linecap="butt"/>
<line x1="677.90" y1="389.10" x2="677.90" y2="397.00" stroke="#1b9db0" stroke-width="1.7" stroke-linecap="butt"/>
<line x1="674.60" y1="397.00" x2="681.20" y2="397.00" stroke="#1b9db0" stroke-width="1.7" stroke-linecap="butt"/>
<circle cx="430.40" cy="429.40" r="3.30" fill="#1b9db0" stroke="none" stroke-width="0"/>
<circle cx="471.65" cy="410.70" r="3.30" fill="#1b9db0" stroke="none" stroke-width="0"/>
<circle cx="512.90" cy="395.00" r="3.30" fill="#1b9db0" stroke="none" stroke-width="0"/>
<circle cx="554.15" cy="387.60" r="3.30" fill="#1b9db0" stroke="none" stroke-width="0"/>
<circle cx="595.40" cy="388.50" r="3.30" fill="#1b9db0" stroke="none" stroke-width="0"/>
<circle cx="636.65" cy="389.80" r="3.30" fill="#1b9db0" stroke="none" stroke-width="0"/>
<circle cx="677.90" cy="389.10" r="3.30" fill="#1b9db0" stroke="none" stroke-width="0"/>
<line x1="437.0" y1="274.4" x2="455.0" y2="274.4" stroke="#000" stroke-width="1.0" stroke-opacity="0.85"/>
<circle cx="446.00" cy="274.40" r="3.00" fill="#00138a" stroke="#000" stroke-width="1.1"/>
<text x="464.50" y="277.00" font-size="10.0" font-weight="normal" text-anchor="start" fill="#000" color="#000">KO NOR-24h</text>
<line x1="437.0" y1="289.4" x2="455.0" y2="289.4" stroke="#8a8a8a" stroke-width="1.0" stroke-opacity="0.6"/>
<circle cx="446.00" cy="289.40" r="3.30" fill="#8a8a8a" stroke="none" stroke-width="1.1"/>
<text x="464.50" y="292.00" font-size="10.0" font-weight="normal" text-anchor="start" fill="#000" color="#000">KO naive</text>
<line x1="437.0" y1="305.5" x2="455.0" y2="305.5" stroke="#1b9db0" stroke-width="1.0" stroke-opacity="0.6"/>
<circle cx="446.00" cy="305.50" r="3.30" fill="#1b9db0" stroke="none" stroke-width="1.1"/>
<text x="464.50" y="308.10" font-size="10.0" font-weight="normal" text-anchor="start" fill="#000" color="#000">KO NOR-1h</text>
<text x="471.70" y="441.80" font-size="17.3" font-weight="bold" text-anchor="middle" fill="#1e9e1e" color="#1e9e1e">*</text>
<text x="512.90" y="437.80" font-size="17.3" font-weight="bold" text-anchor="middle" fill="#1e9e1e" color="#1e9e1e">*</text>
<text x="0.00" y="0.00" font-size="23.0" font-weight="bold" text-anchor="start" fill="#000" color="#000" transform="translate(147.00,532.80) scale(1,1.1)">E</text>
<line x1="218.50" y1="529.10" x2="218.50" y2="675.40" stroke="#000" stroke-width="1.5" stroke-linecap="butt"/>
<line x1="215.50" y1="674.60" x2="218.50" y2="674.60" stroke="#000" stroke-width="1.3" stroke-linecap="butt"/>
<text x="214.30" y="679.00" font-size="10.4" font-weight="bold" text-anchor="end" fill="#000" color="#000" style="stroke-width:0.08px">0.0</text>
<line x1="215.50" y1="645.62" x2="218.50" y2="645.62" stroke="#000" stroke-width="1.3" stroke-linecap="butt"/>
<text x="214.30" y="650.02" font-size="10.4" font-weight="bold" text-anchor="end" fill="#000" color="#000" style="stroke-width:0.08px">0.2</text>
<line x1="215.50" y1="616.64" x2="218.50" y2="616.64" stroke="#000" stroke-width="1.3" stroke-linecap="butt"/>
<text x="214.30" y="621.04" font-size="10.4" font-weight="bold" text-anchor="end" fill="#000" color="#000" style="stroke-width:0.08px">0.4</text>
<line x1="215.50" y1="587.66" x2="218.50" y2="587.66" stroke="#000" stroke-width="1.3" stroke-linecap="butt"/>
<text x="214.30" y="592.06" font-size="10.4" font-weight="bold" text-anchor="end" fill="#000" color="#000" style="stroke-width:0.08px">0.6</text>
<line x1="215.50" y1="558.68" x2="218.50" y2="558.68" stroke="#000" stroke-width="1.3" stroke-linecap="butt"/>
<text x="214.30" y="563.08" font-size="10.4" font-weight="bold" text-anchor="end" fill="#000" color="#000" style="stroke-width:0.08px">0.8</text>
<line x1="215.50" y1="529.70" x2="218.50" y2="529.70" stroke="#000" stroke-width="1.3" stroke-linecap="butt"/>
<text x="214.30" y="534.10" font-size="10.4" font-weight="bold" text-anchor="end" fill="#000" color="#000" style="stroke-width:0.08px">1.0</text>
<line x1="217.80" y1="674.60" x2="437.50" y2="674.60" stroke="#000" stroke-width="1.5" stroke-linecap="butt"/>
<line x1="219.60" y1="674.60" x2="219.60" y2="677.80" stroke="#000" stroke-width="1.3" stroke-linecap="butt"/>
<text x="219.60" y="690.50" font-size="10.1" font-weight="bold" text-anchor="middle" fill="#000" color="#000" style="stroke-width:0.05px">10</text>
<line x1="255.80" y1="674.60" x2="255.80" y2="677.80" stroke="#000" stroke-width="1.3" stroke-linecap="butt"/>
<text x="255.80" y="690.50" font-size="10.1" font-weight="bold" text-anchor="middle" fill="#000" color="#000" style="stroke-width:0.05px">15</text>
<line x1="292.00" y1="674.60" x2="292.00" y2="677.80" stroke="#000" stroke-width="1.3" stroke-linecap="butt"/>
<text x="292.00" y="690.50" font-size="10.1" font-weight="bold" text-anchor="middle" fill="#000" color="#000" style="stroke-width:0.05px">20</text>
<line x1="328.20" y1="674.60" x2="328.20" y2="677.80" stroke="#000" stroke-width="1.3" stroke-linecap="butt"/>
<text x="328.20" y="690.50" font-size="10.1" font-weight="bold" text-anchor="middle" fill="#000" color="#000" style="stroke-width:0.05px">25</text>
<line x1="364.40" y1="674.60" x2="364.40" y2="677.80" stroke="#000" stroke-width="1.3" stroke-linecap="butt"/>
<text x="364.40" y="690.50" font-size="10.1" font-weight="bold" text-anchor="middle" fill="#000" color="#000" style="stroke-width:0.05px">30</text>
<line x1="400.60" y1="674.60" x2="400.60" y2="677.80" stroke="#000" stroke-width="1.3" stroke-linecap="butt"/>
<text x="400.60" y="690.50" font-size="10.1" font-weight="bold" text-anchor="middle" fill="#000" color="#000" style="stroke-width:0.05px">35</text>
<line x1="436.80" y1="674.60" x2="436.80" y2="677.80" stroke="#000" stroke-width="1.3" stroke-linecap="butt"/>
<text x="436.80" y="690.50" font-size="10.1" font-weight="bold" text-anchor="middle" fill="#000" color="#000" style="stroke-width:0.05px">40</text>
<text transform="translate(192.2,601.5) rotate(-90)" font-size="11.6" font-weight="bold" text-anchor="middle" textLength="123" lengthAdjust="spacingAndGlyphs">EPSP slope (mV ms<tspan font-size="8.7" dy="-4.8">-1</tspan><tspan dy="4.8">)</tspan></text>
<text x="328.8" y="706.8" font-size="11.3" font-weight="bold" text-anchor="middle" textLength="128" lengthAdjust="spacingAndGlyphs">Stimulus Intensity (<tspan font-weight="normal">μ</tspan>A)</text>
<polyline points="219.60,664.10 255.80,649.90 292.00,630.40 328.20,616.00 364.40,605.80 400.60,596.30 436.80,590.30" fill="none" stroke="#a3a3a3" stroke-width="1.0" stroke-linejoin="round"/>
<polyline points="219.60,668.70 255.80,653.10 292.00,639.80 328.20,627.70 364.40,612.10 400.60,608.30 436.80,603.40" fill="none" stroke="#a3a3a3" stroke-width="1.0" stroke-linejoin="round"/>
<line x1="219.60" y1="657.30" x2="219.60" y2="664.10" stroke="#a3a3a3" stroke-width="1.1" stroke-linecap="butt"/>
<line x1="216.70" y1="657.30" x2="222.50" y2="657.30" stroke="#a3a3a3" stroke-width="1.1" stroke-linecap="butt"/>
<line x1="255.80" y1="642.10" x2="255.80" y2="649.90" stroke="#a3a3a3" stroke-width="1.1" stroke-linecap="butt"/>
<line x1="252.90" y1="642.10" x2="258.70" y2="642.10" stroke="#a3a3a3" stroke-width="1.1" stroke-linecap="butt"/>
<line x1="255.80" y1="649.90" x2="255.80" y2="657.00" stroke="#a3a3a3" stroke-width="1.1" stroke-linecap="butt"/>
<line x1="252.90" y1="657.00" x2="258.70" y2="657.00" stroke="#a3a3a3" stroke-width="1.1" stroke-linecap="butt"/>
<line x1="292.00" y1="622.40" x2="292.00" y2="630.40" stroke="#a3a3a3" stroke-width="1.1" stroke-linecap="butt"/>
<line x1="289.10" y1="622.40" x2="294.90" y2="622.40" stroke="#a3a3a3" stroke-width="1.1" stroke-linecap="butt"/>
<line x1="292.00" y1="630.40" x2="292.00" y2="638.60" stroke="#a3a3a3" stroke-width="1.1" stroke-linecap="butt"/>
<line x1="289.10" y1="638.60" x2="294.90" y2="638.60" stroke="#a3a3a3" stroke-width="1.1" stroke-linecap="butt"/>
<line x1="328.20" y1="602.80" x2="328.20" y2="616.00" stroke="#a3a3a3" stroke-width="1.1" stroke-linecap="butt"/>
<line x1="325.30" y1="602.80" x2="331.10" y2="602.80" stroke="#a3a3a3" stroke-width="1.1" stroke-linecap="butt"/>
<line x1="328.20" y1="616.00" x2="328.20" y2="628.50" stroke="#a3a3a3" stroke-width="1.1" stroke-linecap="butt"/>
<line x1="325.30" y1="628.50" x2="331.10" y2="628.50" stroke="#a3a3a3" stroke-width="1.1" stroke-linecap="butt"/>
<line x1="364.40" y1="590.00" x2="364.40" y2="605.80" stroke="#a3a3a3" stroke-width="1.1" stroke-linecap="butt"/>
<line x1="361.50" y1="590.00" x2="367.30" y2="590.00" stroke="#a3a3a3" stroke-width="1.1" stroke-linecap="butt"/>
<line x1="364.40" y1="605.80" x2="364.40" y2="622.50" stroke="#a3a3a3" stroke-width="1.1" stroke-linecap="butt"/>
<line x1="361.50" y1="622.50" x2="367.30" y2="622.50" stroke="#a3a3a3" stroke-width="1.1" stroke-linecap="butt"/>
<line x1="400.60" y1="579.50" x2="400.60" y2="596.30" stroke="#a3a3a3" stroke-width="1.1" stroke-linecap="butt"/>
<line x1="397.70" y1="579.50" x2="403.50" y2="579.50" stroke="#a3a3a3" stroke-width="1.1" stroke-linecap="butt"/>
<line x1="400.60" y1="596.30" x2="400.60" y2="613.30" stroke="#a3a3a3" stroke-width="1.1" stroke-linecap="butt"/>
<line x1="397.70" y1="613.30" x2="403.50" y2="613.30" stroke="#a3a3a3" stroke-width="1.1" stroke-linecap="butt"/>
<line x1="436.80" y1="571.20" x2="436.80" y2="590.30" stroke="#a3a3a3" stroke-width="1.1" stroke-linecap="butt"/>
<line x1="433.90" y1="571.20" x2="439.70" y2="571.20" stroke="#a3a3a3" stroke-width="1.1" stroke-linecap="butt"/>
<line x1="436.80" y1="590.30" x2="436.80" y2="609.40" stroke="#a3a3a3" stroke-width="1.1" stroke-linecap="butt"/>
<line x1="433.90" y1="609.40" x2="439.70" y2="609.40" stroke="#a3a3a3" stroke-width="1.1" stroke-linecap="butt"/>
<line x1="255.80" y1="653.10" x2="255.80" y2="659.20" stroke="#a3a3a3" stroke-width="1.1" stroke-linecap="butt"/>
<line x1="252.90" y1="659.20" x2="258.70" y2="659.20" stroke="#a3a3a3" stroke-width="1.1" stroke-linecap="butt"/>
<line x1="292.00" y1="639.80" x2="292.00" y2="649.00" stroke="#a3a3a3" stroke-width="1.1" stroke-linecap="butt"/>
<line x1="289.10" y1="649.00" x2="294.90" y2="649.00" stroke="#a3a3a3" stroke-width="1.1" stroke-linecap="butt"/>
<line x1="328.20" y1="615.20" x2="328.20" y2="627.70" stroke="#a3a3a3" stroke-width="1.1" stroke-linecap="butt"/>
<line x1="325.30" y1="615.20" x2="331.10" y2="615.20" stroke="#a3a3a3" stroke-width="1.1" stroke-linecap="butt"/>
<line x1="328.20" y1="627.70" x2="328.20" y2="640.20" stroke="#a3a3a3" stroke-width="1.1" stroke-linecap="butt"/>
<line x1="325.30" y1="640.20" x2="331.10" y2="640.20" stroke="#a3a3a3" stroke-width="1.1" stroke-linecap="butt"/>
<line x1="364.40" y1="597.20" x2="364.40" y2="612.10" stroke="#a3a3a3" stroke-width="1.1" stroke-linecap="butt"/>
<line x1="361.50" y1="597.20" x2="367.30" y2="597.20" stroke="#a3a3a3" stroke-width="1.1" stroke-linecap="butt"/>
<line x1="364.40" y1="612.10" x2="364.40" y2="627.10" stroke="#a3a3a3" stroke-width="1.1" stroke-linecap="butt"/>
<line x1="361.50" y1="627.10" x2="367.30" y2="627.10" stroke="#a3a3a3" stroke-width="1.1" stroke-linecap="butt"/>
<line x1="400.60" y1="590.20" x2="400.60" y2="608.30" stroke="#a3a3a3" stroke-width="1.1" stroke-linecap="butt"/>
<line x1="397.70" y1="590.20" x2="403.50" y2="590.20" stroke="#a3a3a3" stroke-width="1.1" stroke-linecap="butt"/>
<line x1="400.60" y1="608.30" x2="400.60" y2="626.20" stroke="#a3a3a3" stroke-width="1.1" stroke-linecap="butt"/>
<line x1="397.70" y1="626.20" x2="403.50" y2="626.20" stroke="#a3a3a3" stroke-width="1.1" stroke-linecap="butt"/>
<line x1="436.80" y1="581.50" x2="436.80" y2="603.40" stroke="#a3a3a3" stroke-width="1.1" stroke-linecap="butt"/>
<line x1="433.90" y1="581.50" x2="439.70" y2="581.50" stroke="#a3a3a3" stroke-width="1.1" stroke-linecap="butt"/>
<line x1="436.80" y1="603.40" x2="436.80" y2="625.10" stroke="#a3a3a3" stroke-width="1.1" stroke-linecap="butt"/>
<line x1="433.90" y1="625.10" x2="439.70" y2="625.10" stroke="#a3a3a3" stroke-width="1.1" stroke-linecap="butt"/>
<circle cx="219.60" cy="668.70" r="3.10" fill="#9c9c9c" stroke="none" stroke-width="0"/>
<circle cx="255.80" cy="653.10" r="3.10" fill="#9c9c9c" stroke="none" stroke-width="0"/>
<circle cx="292.00" cy="639.80" r="3.10" fill="#9c9c9c" stroke="none" stroke-width="0"/>
<circle cx="328.20" cy="627.70" r="3.10" fill="#9c9c9c" stroke="none" stroke-width="0"/>
<circle cx="364.40" cy="612.10" r="3.10" fill="#9c9c9c" stroke="none" stroke-width="0"/>
<circle cx="400.60" cy="608.30" r="3.10" fill="#9c9c9c" stroke="none" stroke-width="0"/>
<circle cx="436.80" cy="603.40" r="3.10" fill="#9c9c9c" stroke="none" stroke-width="0"/>
<circle cx="219.60" cy="664.10" r="2.60" fill="#fff" stroke="#9c9c9c" stroke-width="1.2"/>
<circle cx="255.80" cy="649.90" r="2.60" fill="#fff" stroke="#9c9c9c" stroke-width="1.2"/>
<circle cx="292.00" cy="630.40" r="2.60" fill="#fff" stroke="#9c9c9c" stroke-width="1.2"/>
<circle cx="328.20" cy="616.00" r="2.60" fill="#fff" stroke="#9c9c9c" stroke-width="1.2"/>
<circle cx="364.40" cy="605.80" r="2.60" fill="#fff" stroke="#9c9c9c" stroke-width="1.2"/>
<circle cx="400.60" cy="596.30" r="2.60" fill="#fff" stroke="#9c9c9c" stroke-width="1.2"/>
<circle cx="436.80" cy="590.30" r="2.60" fill="#fff" stroke="#9c9c9c" stroke-width="1.2"/>
<line x1="224.20" y1="537.40" x2="238.20" y2="537.40" stroke="#a3a3a3" stroke-width="0.9" stroke-linecap="butt"/>
<circle cx="231.20" cy="537.40" r="2.60" fill="#fff" stroke="#9c9c9c" stroke-width="1.1"/>
<line x1="224.20" y1="552.30" x2="238.20" y2="552.30" stroke="#a3a3a3" stroke-width="0.9" stroke-linecap="butt"/>
<circle cx="231.20" cy="552.30" r="3.00" fill="#9c9c9c" stroke="none" stroke-width="1.0"/>
<text x="247.60" y="540.40" font-size="9.0" font-weight="normal" text-anchor="start" fill="#000" color="#000" textLength="38.70" lengthAdjust="spacingAndGlyphs">WT naive</text>
<text x="247.60" y="555.30" font-size="9.0" font-weight="normal" text-anchor="start" fill="#000" color="#000" textLength="38.00" lengthAdjust="spacingAndGlyphs">KO naive</text>
<text x="14.60" y="759.40" font-size="23.5" font-weight="bold" text-anchor="start" fill="#000" color="#000">F</text>
<line x1="58.80" y1="770.00" x2="58.80" y2="935.30" stroke="#000" stroke-width="1.5" stroke-linecap="butt"/>
<line x1="54.60" y1="934.50" x2="58.80" y2="934.50" stroke="#000" stroke-width="1.3" stroke-linecap="butt"/>
<text x="0.00" y="0.00" font-size="11.6" font-weight="normal" text-anchor="end" fill="#000" color="#000" transform="translate(52.20,938.00) scale(1,1.07)" style="stroke-width:0.3px">0</text>
<line x1="54.60" y1="893.52" x2="58.80" y2="893.52" stroke="#000" stroke-width="1.3" stroke-linecap="butt"/>
<text x="0.00" y="0.00" font-size="11.6" font-weight="normal" text-anchor="end" fill="#000" color="#000" transform="translate(52.20,897.02) scale(1,1.07)" style="stroke-width:0.3px">50</text>
<line x1="54.60" y1="852.55" x2="58.80" y2="852.55" stroke="#000" stroke-width="1.3" stroke-linecap="butt"/>
<text x="0.00" y="0.00" font-size="11.6" font-weight="normal" text-anchor="end" fill="#000" color="#000" transform="translate(52.20,856.05) scale(1,1.07)" style="stroke-width:0.3px">100</text>
<line x1="54.60" y1="811.58" x2="58.80" y2="811.58" stroke="#000" stroke-width="1.3" stroke-linecap="butt"/>
<text x="0.00" y="0.00" font-size="11.6" font-weight="normal" text-anchor="end" fill="#000" color="#000" transform="translate(52.20,815.08) scale(1,1.07)" style="stroke-width:0.3px">150</text>
<line x1="54.60" y1="770.60" x2="58.80" y2="770.60" stroke="#000" stroke-width="1.3" stroke-linecap="butt"/>
<text x="0.00" y="0.00" font-size="11.6" font-weight="normal" text-anchor="end" fill="#000" color="#000" transform="translate(52.20,774.10) scale(1,1.07)" style="stroke-width:0.3px">200</text>
<line x1="58.10" y1="934.50" x2="306.00" y2="934.50" stroke="#000" stroke-width="1.6" stroke-linecap="butt"/>
<text transform="translate(23.70,851.80) rotate(-90)" font-size="13.4" font-weight="bold" text-anchor="middle" textLength="159.5" lengthAdjust="spacingAndGlyphs" style="stroke-width:0">fEPSP slope (% of basal)</text>
<circle cx="66.00" cy="771.50" r="1.60" fill="#000" stroke="none" stroke-width="1.0"/>
<text x="84.60" y="774.90" font-size="11.4" font-weight="normal" text-anchor="start" fill="#000" color="#000">WT naive</text>
<polygon points="66.00,785.09 67.68,788.41 64.32,788.41" fill="#26c6d0"/>
<text x="84.60" y="790.30" font-size="11.4" font-weight="normal" text-anchor="start" fill="#000" color="#000">WT NOR-1h</text>
<polygon points="66.00,798.79 67.68,802.11 64.32,802.11" fill="#4a4ad8"/>
<text x="84.60" y="804.00" font-size="11.4" font-weight="normal" text-anchor="start" fill="#000" color="#000">WT NOR-24h</text>
<line x1="63.20" y1="939.10" x2="177.60" y2="939.10" stroke="#000" stroke-width="1.6" stroke-linecap="butt"/>
<line x1="187.80" y1="939.10" x2="302.30" y2="939.10" stroke="#000" stroke-width="1.6" stroke-linecap="butt"/>
<text x="121.20" y="949.20" font-size="9.2" font-weight="normal" text-anchor="middle" fill="#2a2a2a" color="#2a2a2a" letter-spacing="0.66" style="stroke-width:0">basal</text>
<text x="245.00" y="949.20" font-size="9.2" font-weight="normal" text-anchor="middle" fill="#2a2a2a" color="#2a2a2a" letter-spacing="0.62" style="stroke-width:0">Bicuculline</text>
<rect x="66.00" y="852.50" width="27.70" height="82.20" fill="#fff" stroke="#a8a8a8" stroke-width="1.4"/>
<rect x="106.60" y="852.50" width="28.20" height="82.20" fill="#fff" stroke="#23a3b5" stroke-width="1.4"/>
<rect x="148.10" y="852.50" width="27.20" height="82.20" fill="#fff" stroke="#1a1aa8" stroke-width="1.4"/>
<rect x="188.50" y="847.00" width="28.10" height="87.70" fill="#fff" stroke="#a8a8a8" stroke-width="1.4"/>
<rect x="230.30" y="844.30" width="27.50" height="90.40" fill="#fff" stroke="#23a3b5" stroke-width="1.4"/>
<rect x="270.70" y="846.00" width="27.90" height="88.70" fill="#fff" stroke="#1a1aa8" stroke-width="1.4"/>
<line x1="58.10" y1="934.50" x2="306.00" y2="934.50" stroke="#000" stroke-width="1.6" stroke-linecap="butt"/>
<circle cx="70.00" cy="851.50" r="1.70" fill="#000" stroke="none" stroke-width="1.0"/>
<circle cx="74.50" cy="852.70" r="1.70" fill="#000" stroke="none" stroke-width="1.0"/>
<circle cx="79.50" cy="854.00" r="1.70" fill="#000" stroke="none" stroke-width="1.0"/>
<circle cx="84.50" cy="853.00" r="1.70" fill="#000" stroke="none" stroke-width="1.0"/>
<circle cx="89.50" cy="852.50" r="1.70" fill="#000" stroke="none" stroke-width="1.0"/>
<polygon points="111.00,850.59 112.46,853.51 109.54,853.51" fill="#2ccbd8"/>
<polygon points="115.00,850.59 116.46,853.51 113.54,853.51" fill="#2ccbd8"/>
<polygon points="119.50,850.59 120.96,853.51 118.04,853.51" fill="#2ccbd8"/>
<polygon points="124.00,850.59 125.46,853.51 122.54,853.51" fill="#2ccbd8"/>
<polygon points="128.50,850.59 129.96,853.51 127.04,853.51" fill="#2ccbd8"/>
<polygon points="153.00,850.59 154.46,853.51 151.54,853.51" fill="#5050e0"/>
<polygon points="157.00,850.59 158.46,853.51 155.54,853.51" fill="#5050e0"/>
<polygon points="161.50,850.59 162.96,853.51 160.04,853.51" fill="#5050e0"/>
<polygon points="166.00,850.59 167.46,853.51 164.54,853.51" fill="#5050e0"/>
<polygon points="170.50,850.59 171.96,853.51 169.04,853.51" fill="#5050e0"/>
<line x1="202.80" y1="842.80" x2="202.80" y2="850.00" stroke="#000" stroke-width="1.4" stroke-linecap="butt"/>
<line x1="196.20" y1="842.80" x2="209.40" y2="842.80" stroke="#000" stroke-width="1.4" stroke-linecap="butt"/>
<line x1="196.20" y1="850.00" x2="209.40" y2="850.00" stroke="#000" stroke-width="1.4" stroke-linecap="butt"/>
<circle cx="199.90" cy="835.60" r="1.80" fill="#000" stroke="none" stroke-width="1.0"/>
<circle cx="205.20" cy="838.40" r="1.80" fill="#000" stroke="none" stroke-width="1.0"/>
<circle cx="197.50" cy="852.60" r="1.80" fill="#000" stroke="none" stroke-width="1.0"/>
<circle cx="202.80" cy="855.10" r="1.80" fill="#000" stroke="none" stroke-width="1.0"/>
<circle cx="208.10" cy="852.60" r="1.80" fill="#000" stroke="none" stroke-width="1.0"/>
<circle cx="202.80" cy="849.40" r="1.80" fill="#000" stroke="none" stroke-width="1.0"/>
<line x1="244.00" y1="840.10" x2="244.00" y2="847.10" stroke="#2ccbd8" stroke-width="1.4" stroke-linecap="butt"/>
<line x1="237.10" y1="840.10" x2="250.90" y2="840.10" stroke="#2ccbd8" stroke-width="1.4" stroke-linecap="butt"/>
<line x1="237.10" y1="847.10" x2="250.90" y2="847.10" stroke="#2ccbd8" stroke-width="1.4" stroke-linecap="butt"/>
<polygon points="241.30,830.49 242.98,833.81 239.62,833.81" fill="#2ccbd8"/>
<polygon points="246.40,832.79 248.08,836.11 244.72,836.11" fill="#2ccbd8"/>
<polygon points="244.00,839.99 245.68,843.31 242.32,843.31" fill="#2ccbd8"/>
<polygon points="240.70,851.39 242.38,854.71 239.02,854.71" fill="#2ccbd8"/>
<polygon points="244.10,851.99 245.78,855.31 242.42,855.31" fill="#2ccbd8"/>
<polygon points="249.30,851.39 250.98,854.71 247.62,854.71" fill="#2ccbd8"/>
<polygon points="238.30,849.09 239.98,852.41 236.62,852.41" fill="#2ccbd8"/>
<line x1="284.70" y1="842.90" x2="284.70" y2="845.10" stroke="#5050e0" stroke-width="0.9" stroke-linecap="butt"/>
<line x1="278.30" y1="842.90" x2="291.10" y2="842.90" stroke="#5050e0" stroke-width="0.9" stroke-linecap="butt"/>
<line x1="278.30" y1="845.10" x2="291.10" y2="845.10" stroke="#5050e0" stroke-width="0.9" stroke-linecap="butt"/>
<polygon points="282.50,838.69 284.18,842.01 280.82,842.01" fill="#5050e0"/>
<polygon points="287.60,841.89 289.28,845.21 285.92,845.21" fill="#5050e0"/>
<polygon points="287.60,847.19 289.28,850.51 285.92,850.51" fill="#5050e0"/>
<polygon points="282.50,849.09 284.18,852.41 280.82,852.41" fill="#5050e0"/>
<line x1="120.70" y1="825.40" x2="120.70" y2="815.40" stroke="#000" stroke-width="1.5" stroke-linecap="butt"/>
<line x1="120.00" y1="815.40" x2="244.60" y2="815.40" stroke="#000" stroke-width="1.5" stroke-linecap="butt"/>
<line x1="243.90" y1="815.40" x2="243.90" y2="825.40" stroke="#000" stroke-width="1.5" stroke-linecap="butt"/>
<text x="182.60" y="816.00" font-size="15.0" font-weight="bold" text-anchor="middle" fill="#000" color="#000">*</text>
<text x="380.20" y="761.20" font-size="23.5" font-weight="bold" text-anchor="start" fill="#000" color="#000">G</text>
<line x1="429.00" y1="771.90" x2="429.00" y2="935.90" stroke="#000" stroke-width="1.5" stroke-linecap="butt"/>
<line x1="424.80" y1="935.10" x2="429.00" y2="935.10" stroke="#000" stroke-width="1.3" stroke-linecap="butt"/>
<text x="0.00" y="0.00" font-size="11.6" font-weight="normal" text-anchor="end" fill="#000" color="#000" transform="translate(422.40,938.60) scale(1,1.07)" style="stroke-width:0.3px">0</text>
<line x1="424.80" y1="894.45" x2="429.00" y2="894.45" stroke="#000" stroke-width="1.3" stroke-linecap="butt"/>
<text x="0.00" y="0.00" font-size="11.6" font-weight="normal" text-anchor="end" fill="#000" color="#000" transform="translate(422.40,897.95) scale(1,1.07)" style="stroke-width:0.3px">50</text>
<line x1="424.80" y1="853.80" x2="429.00" y2="853.80" stroke="#000" stroke-width="1.3" stroke-linecap="butt"/>
<text x="0.00" y="0.00" font-size="11.6" font-weight="normal" text-anchor="end" fill="#000" color="#000" transform="translate(422.40,857.30) scale(1,1.07)" style="stroke-width:0.3px">100</text>
<line x1="424.80" y1="813.15" x2="429.00" y2="813.15" stroke="#000" stroke-width="1.3" stroke-linecap="butt"/>
<text x="0.00" y="0.00" font-size="11.6" font-weight="normal" text-anchor="end" fill="#000" color="#000" transform="translate(422.40,816.65) scale(1,1.07)" style="stroke-width:0.3px">150</text>
<line x1="424.80" y1="772.50" x2="429.00" y2="772.50" stroke="#000" stroke-width="1.3" stroke-linecap="butt"/>
<text x="0.00" y="0.00" font-size="11.6" font-weight="normal" text-anchor="end" fill="#000" color="#000" transform="translate(422.40,776.00) scale(1,1.07)" style="stroke-width:0.3px">200</text>
<line x1="428.30" y1="935.10" x2="673.60" y2="935.10" stroke="#000" stroke-width="1.6" stroke-linecap="butt"/>
<text transform="translate(394.40,852.70) rotate(-90)" font-size="13.4" font-weight="bold" text-anchor="middle" textLength="158.0" lengthAdjust="spacingAndGlyphs" style="stroke-width:0">fEPSP slope (% of basal)</text>
<circle cx="436.20" cy="773.00" r="1.60" fill="#000" stroke="none" stroke-width="1.0"/>
<text x="454.80" y="776.40" font-size="11.4" font-weight="normal" text-anchor="start" fill="#000" color="#000">KO naive</text>
<polygon points="436.20,786.19 437.88,789.51 434.52,789.51" fill="#26c6d0"/>
<text x="454.80" y="791.40" font-size="11.4" font-weight="normal" text-anchor="start" fill="#000" color="#000">KO NOR-1h</text>
<polygon points="436.20,800.69 437.88,804.01 434.52,804.01" fill="#4a4ad8"/>
<text x="454.80" y="805.90" font-size="11.4" font-weight="normal" text-anchor="start" fill="#000" color="#000">KO NOR-24h</text>
<line x1="432.50" y1="939.60" x2="545.50" y2="939.60" stroke="#000" stroke-width="1.6" stroke-linecap="butt"/>
<line x1="556.30" y1="939.60" x2="670.20" y2="939.60" stroke="#000" stroke-width="1.6" stroke-linecap="butt"/>
<text x="490.40" y="949.80" font-size="9.2" font-weight="normal" text-anchor="middle" fill="#2a2a2a" color="#2a2a2a" letter-spacing="0.66" style="stroke-width:0">basal</text>
<text x="613.10" y="949.80" font-size="9.2" font-weight="normal" text-anchor="middle" fill="#2a2a2a" color="#2a2a2a" letter-spacing="0.62" style="stroke-width:0">Bicuculline</text>
<rect x="435.00" y="853.70" width="28.10" height="81.40" fill="#9e9da3" stroke="none" stroke-width="1.3"/>
<rect x="475.50" y="853.70" width="28.80" height="81.40" fill="#1597ad" stroke="none" stroke-width="1.3"/>
<rect x="516.20" y="853.20" width="28.50" height="81.90" fill="#0000b5" stroke="none" stroke-width="1.3"/>
<rect x="557.00" y="845.00" width="28.60" height="90.10" fill="#9e9da3" stroke="none" stroke-width="1.3"/>
<rect x="597.20" y="853.80" width="28.80" height="81.30" fill="#1597ad" stroke="none" stroke-width="1.3"/>
<rect x="638.00" y="854.20" width="28.80" height="80.90" fill="#0000b5" stroke="none" stroke-width="1.3"/>
<line x1="428.30" y1="935.10" x2="673.60" y2="935.10" stroke="#000" stroke-width="1.6" stroke-linecap="butt"/>
<circle cx="442.00" cy="853.50" r="1.80" fill="#000" stroke="none" stroke-width="1.0"/>
<circle cx="446.50" cy="853.50" r="1.80" fill="#000" stroke="none" stroke-width="1.0"/>
<circle cx="451.50" cy="853.50" r="1.80" fill="#000" stroke="none" stroke-width="1.0"/>
<circle cx="456.50" cy="853.50" r="1.80" fill="#000" stroke="none" stroke-width="1.0"/>
<polygon points="480.00,851.69 481.46,854.61 478.54,854.61" fill="#2ccbd8"/>
<polygon points="484.50,851.69 485.96,854.61 483.04,854.61" fill="#2ccbd8"/>
<polygon points="489.00,851.69 490.46,854.61 487.54,854.61" fill="#2ccbd8"/>
<polygon points="493.50,851.69 494.96,854.61 492.04,854.61" fill="#2ccbd8"/>
<polygon points="498.00,851.69 499.46,854.61 496.54,854.61" fill="#2ccbd8"/>
<polygon points="521.00,851.39 522.46,854.31 519.54,854.31" fill="#3b3bff"/>
<polygon points="525.50,851.39 526.96,854.31 524.04,854.31" fill="#3b3bff"/>
<polygon points="530.00,851.39 531.46,854.31 528.54,854.31" fill="#3b3bff"/>
<polygon points="534.50,851.39 535.96,854.31 533.04,854.31" fill="#3b3bff"/>
<polygon points="539.00,851.39 540.46,854.31 537.54,854.31" fill="#3b3bff"/>
<line x1="571.30" y1="840.30" x2="571.30" y2="849.00" stroke="#000" stroke-width="1.4" stroke-linecap="butt"/>
<line x1="564.30" y1="840.30" x2="578.30" y2="840.30" stroke="#000" stroke-width="1.4" stroke-linecap="butt"/>
<line x1="564.30" y1="849.00" x2="578.30" y2="849.00" stroke="#000" stroke-width="1.4" stroke-linecap="butt"/>
<circle cx="571.30" cy="829.90" r="2.00" fill="#000" stroke="none" stroke-width="1.0"/>
<circle cx="566.10" cy="850.00" r="2.00" fill="#000" stroke="none" stroke-width="1.0"/>
<circle cx="571.30" cy="852.30" r="2.00" fill="#000" stroke="none" stroke-width="1.0"/>
<circle cx="576.60" cy="850.70" r="2.00" fill="#000" stroke="none" stroke-width="1.0"/>
<polygon points="621.50,848.19 623.18,851.51 619.82,851.51" fill="#2ccbd8"/>
<polygon points="611.70,859.59 613.38,862.91 610.02,862.91" fill="#2ccbd8"/>
<polygon points="601.00,851.79 602.68,855.11 599.32,855.11" fill="#2ccbd8"/>
<polygon points="605.00,851.99 606.68,855.31 603.32,855.31" fill="#2ccbd8"/>
<polygon points="609.00,851.99 610.68,855.31 607.32,855.31" fill="#2ccbd8"/>
<polygon points="613.00,851.99 614.68,855.31 611.32,855.31" fill="#2ccbd8"/>
<polygon points="617.00,851.79 618.68,855.11 615.32,855.11" fill="#2ccbd8"/>
<polygon points="652.50,845.29 654.18,848.61 650.82,848.61" fill="#6a6af0"/>
<polygon points="650.00,849.49 651.68,852.81 648.32,852.81" fill="#6a6af0"/>
<polygon points="654.90,849.49 656.58,852.81 653.22,852.81" fill="#6a6af0"/>
<polygon points="647.70,856.19 649.38,859.51 646.02,859.51" fill="#6a6af0"/>
<polygon points="652.50,859.89 654.18,863.21 650.82,863.21" fill="#6a6af0"/>
<polygon points="657.60,857.99 659.28,861.31 655.92,861.31" fill="#6a6af0"/>
<line x1="645.50" y1="853.50" x2="659.50" y2="853.50" stroke="#6a6af0" stroke-width="1.0" stroke-linecap="butt"/>
</svg></body></html>
